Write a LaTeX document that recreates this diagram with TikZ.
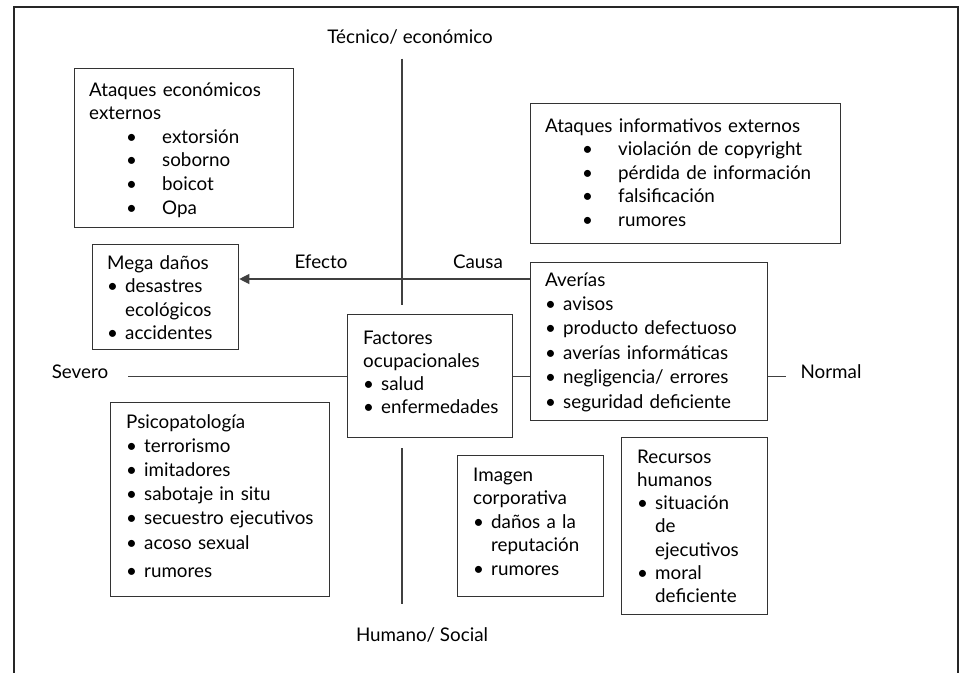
\documentclass[tikz,border=0pt]{standalone}
\usepackage{fontspec}
\setmainfont{Lato}
\usetikzlibrary{arrows.meta}

\newcommand{\itm}{\makebox[18pt][l]{\textbullet}}
\newcommand{\ind}{\hspace*{18pt}}
\newcommand{\witm}{\hspace*{37pt}\makebox[36pt][l]{\textbullet}}

\begin{document}
\begin{tikzpicture}[x=1pt, y=-1pt,
    box/.style={draw=black!80, line width=1.3pt, anchor=north west, inner sep=0pt},
    txt/.style={anchor=base west, inner sep=0pt, align=left, text width=300pt, font=\fontsize{18.8}{23.6}\selectfont},
    lbl/.style={inner sep=0pt, font=\fontsize{18.8}{22}\selectfont},
    axis/.style={draw=black!75, line width=1.2pt},
    arrow/.style={axis, -{Triangle[length=10pt, width=10pt]}}
]
\clip (0,0) rectangle (961,672);

% outer frame
\draw[line width=1.8pt, draw=black!85] (14,7) rectangle (958,720);

% Boxes
\node[box, minimum width=219, minimum height=159] (ataqeco) at (74,68) {};
\node[box, minimum width=146, minimum height=105] (mega) at (92,244) {};
\node[box, minimum width=310, minimum height=140] (ataqinf) at (530,103) {};
\node[box, minimum width=237, minimum height=158] (averias) at (530,262) {};
\node[box, minimum width=165, minimum height=123] (factores) at (347,314) {};
\node[box, minimum width=219, minimum height=194] (psico) at (110,402) {};
\node[box, minimum width=146, minimum height=141] (imagen) at (457,455) {};
\node[box, minimum width=146, minimum height=177] (recursos) at (621,437) {};

% Box texts
\node[txt] (ataqecotxt) at (89,96) {Ataques económicos\\externos\\\witm extorsión\\\witm soborno\\\witm boicot\\\witm Opa};
\node[txt] (megatxt) at (107,269) {Mega daños\\\itm desastres\\\ind ecológicos\\\itm accidentes};
\node[txt] (ataqinftxt) at (545,132) {Ataques informativos externos\\\witm violación de copyright\\\witm pérdida de información\\\witm falsificación\\\witm rumores};
\node[txt, font=\fontsize{18.8}{24.4}\selectfont] (averiastxt) at (545,286) {Averías\\\itm avisos\\\itm producto defectuoso\\\itm averías informáticas\\\itm negligencia/ errores\\\itm seguridad deficiente};
\node[txt, font=\fontsize{18.8}{23}\selectfont] (factorestxt) at (363,344) {Factores\\ocupacionales\\\itm salud\\\itm enfermedades};
\node[txt, font=\fontsize{18.8}{24.2}\selectfont] (psicotxt) at (126,428) {Psicopatología\\\itm terrorismo\\\itm imitadores\\\itm sabotaje in situ\\\itm secuestro ejecutivos\\\itm acoso sexual\\[4pt]\itm rumores};
\node[txt] (imagentxt) at (473,481) {Imagen\\corporativa\\\itm daños a la\\\ind reputación\\\itm rumores};
\node[txt, font=\fontsize{18.8}{23.3}\selectfont] (recursostxt) at (637,463) {Recursos\\humanos\\\itm situación\\\ind de\\\ind ejecutivos\\\itm moral\\\ind deficiente};

% Axis labels
\node[lbl] (tecnico) at (410,37) {Técnico/ económico};
\node[lbl] (humano) at (422,635) {Humano/ Social};
\node[lbl] (severo) at (80,372) {Severo};
\node[lbl] (normal) at (831,372) {Normal};
\node[lbl] (efecto) at (321,262) {Efecto};
\node[lbl] (causa) at (478,262) {Causa};

% Axes
\coordinate (vaxis) at (402,0);
\draw[axis] ([yshift=-14pt]tecnico.south -| vaxis) -- ([yshift=9pt]factores.north -| vaxis);
\draw[axis] ([yshift=-10pt]factores.south -| vaxis) -- ([yshift=23pt]humano.north -| vaxis);
\draw[axis] ([xshift=20pt]severo.east |- factores.west) -- (factores.west);
\draw[axis] (factores.east) -- (averias.west |- factores.east);
\draw[axis] (averias.east |- factores.east) -- ([xshift=-14pt]normal.west |- factores.east);

% Effect arrow
\draw[arrow] ([yshift=-17pt]averias.north west) -- ([yshift=-17pt]averias.north west -| mega.east);

\end{tikzpicture}
\end{document}
